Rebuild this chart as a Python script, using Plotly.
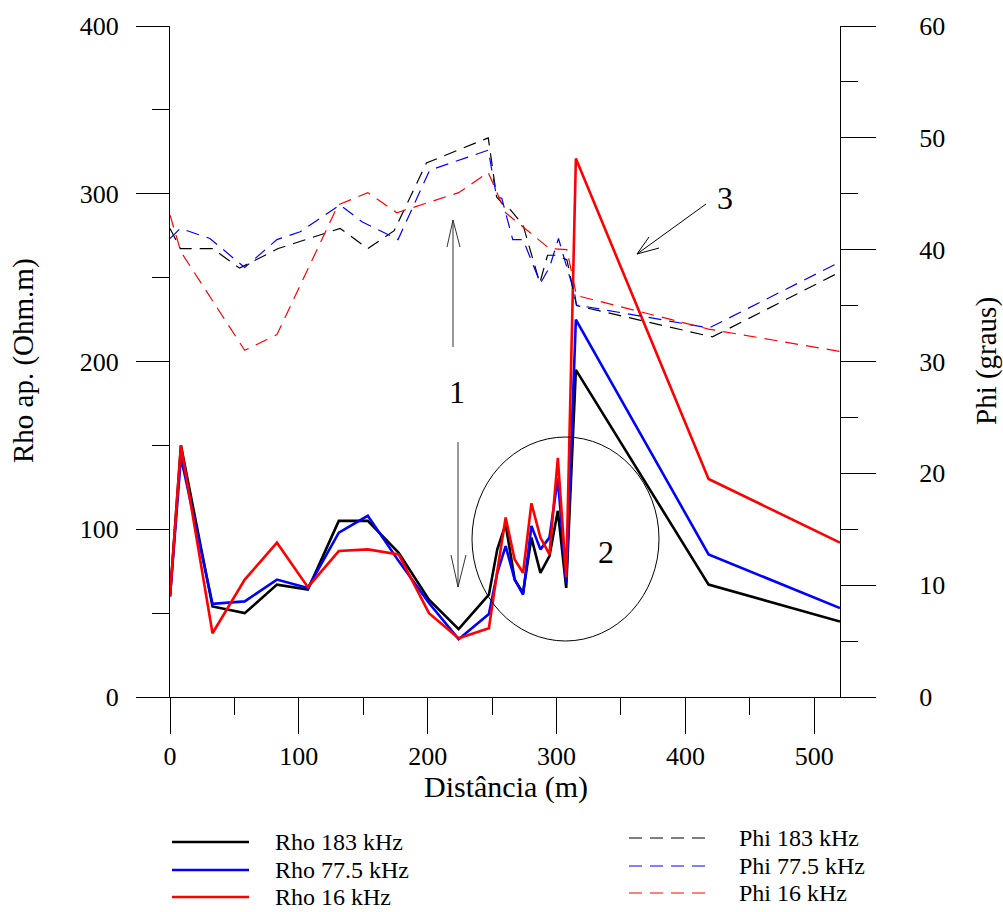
import plotly.graph_objects as go

# ---------------- data ----------------
rho_x = [0, 8.5, 33, 58, 83, 107, 131, 153.5, 177.5, 201, 224, 247.5, 254, 260.5,
         267.5, 274, 280.5, 287.5, 294.5, 301, 307.5, 315, 418, 520]
rho_183 = [60, 150, 54, 50, 67, 64, 105, 105, 86, 58, 40.5, 61, 88, 103,
           70, 62, 95, 74, 84, 111, 65, 195, 67, 45]
rho_775 = [60, 143, 55.5, 57, 70, 65, 98, 108, 81, 56, 34.5, 49.5, 74, 90,
           70, 61, 102, 88, 95, 130.5, 68, 225, 85, 53]
rho_16 = [60, 150, 38, 70, 92, 65.5, 87, 88, 85, 50, 35, 41, 75, 107,
          82, 74, 115.5, 95, 85, 142.5, 71.5, 321, 130, 92]

phi183_x = [0, 8, 33, 54, 84, 132, 153.5, 174, 199, 247, 248, 253.5, 259, 261,
            274, 287, 293, 299, 308, 315.5, 421, 520]
phi_183 = [41.9, 40.1, 40.1, 38.35, 40.1, 41.9, 40.1, 41.7, 47.75, 50.0, 49.2, 44.7,
           44.0, 44.0, 42.2, 37.0, 39.5, 39.5, 39.1, 35.0, 32.2, 38.0]

phi775_x = [0, 8, 31, 58, 83, 101, 132, 149, 177, 201.5, 247, 253.5, 257.5, 266,
            274, 287.5, 294.5, 301.5, 306, 314, 315.5, 418.5, 520]
phi_775 = [41.0, 41.9, 41.0, 38.4, 40.9, 41.6, 44.0, 42.5, 40.9, 47.1, 48.9, 44.7,
           44.6, 40.9, 40.9, 37.0, 38.4, 41.0, 39.2, 36.1, 35.05, 33.0, 38.9]

phi16_x = [0, 8.5, 58, 83, 130.5, 153.5, 176, 224, 247, 260.5, 294.5, 308, 315.5, 418, 520]
phi_16 = [43.1, 39.8, 31.0, 32.4, 44.0, 45.1, 43.3, 45.1, 46.9, 43.3, 40.1, 40.0,
          35.9, 32.9, 30.9]

rho_labels = ["Rho 183 kHz", "Rho 77.5 kHz", "Rho 16 kHz"]
phi_labels = ["Phi 183 kHz", "Phi 77.5 kHz", "Phi 16 kHz"]
colors = ["#000000", "#0000ff", "#ff0000"]

# ---------------- layout geometry ----------------
W, H = 1003, 912
L, R, T, B = 170, 840, 26, 697   # plot edges in screen pixels
FONT = "Liberation Serif, Times New Roman, serif"
DASH = "13px,8px"


def px(x):
    return (x - L) / (R - L)


def py(y):
    return (B - y) / (B - T)


fig = go.Figure()

phi_sets = [(phi183_x, phi_183), (phi775_x, phi_775), (phi16_x, phi_16)]
for (xs, ys), c, name in zip(phi_sets, colors, phi_labels):
    fig.add_trace(go.Scatter(x=xs, y=ys, mode="lines", yaxis="y2", name=name,
                             line=dict(color=c, width=1.2, dash=DASH)))

for ys, c, name in zip([rho_183, rho_775, rho_16], colors, rho_labels):
    fig.add_trace(go.Scatter(x=rho_x, y=ys, mode="lines", name=name,
                             line=dict(color=c, width=2.6)))

tickfont = dict(family=FONT, size=26, color="black")

fig.update_layout(
    width=W, height=H,
    margin=dict(l=L, r=W - R, t=T, b=H - B, pad=0, autoexpand=False),
    paper_bgcolor="white", plot_bgcolor="white",
    showlegend=False,
    font=dict(family=FONT, color="black"),
    xaxis=dict(range=[0, 520], showline=True, linecolor="black", linewidth=1,
               ticks="outside", ticklen=36, tickwidth=1, tickcolor="black",
               tick0=0, dtick=100, showgrid=False, zeroline=False, automargin=False,
               minor=dict(dtick=50, ticks="outside", ticklen=17, tickwidth=1,
                          tickcolor="black", showgrid=False),
               tickfont=tickfont, ticklabelstandoff=0),
    yaxis=dict(range=[0, 400], showline=True, linecolor="black", linewidth=1,
               ticks="outside", ticklen=33, tickwidth=1, tickcolor="black",
               tick0=0, dtick=100, showgrid=False, zeroline=False, automargin=False,
               minor=dict(dtick=50, ticks="outside", ticklen=17, tickwidth=1,
                          tickcolor="black", showgrid=False),
               tickfont=tickfont, ticklabelstandoff=12),
    yaxis2=dict(range=[0, 60], overlaying="y", side="right", showline=True,
                linecolor="black", linewidth=1, automargin=False,
                ticks="outside", ticklen=35, tickwidth=1, tickcolor="black",
                tick0=0, dtick=10, showgrid=False, zeroline=False,
                minor=dict(dtick=5, ticks="outside", ticklen=17, tickwidth=1,
                           tickcolor="black", showgrid=False),
                tickfont=tickfont, ticklabelstandoff=38),
)

shapes = []
annots = []

# axis titles
annots.append(dict(text="Distância (m)", x=px(506), y=py(787), xref="paper", yref="paper",
                   showarrow=False, xanchor="center", yanchor="middle",
                   font=dict(family=FONT, size=30, color="black")))
annots.append(dict(text="Rho ap. (Ohm.m)", x=px(23), y=py(361), xref="paper", yref="paper",
                   showarrow=False, xanchor="center", yanchor="middle", textangle=-90,
                   font=dict(family=FONT, size=29, color="black")))
annots.append(dict(text="Phi (graus)", x=px(986), y=py(361), xref="paper", yref="paper",
                   showarrow=False, xanchor="center", yanchor="middle", textangle=-90,
                   font=dict(family=FONT, size=29, color="black")))

# legend (manual, two columns)
rho_rows = [842, 870, 897]
phi_rows = [838, 866, 893]
for yy, c, name in zip(rho_rows, colors, rho_labels):
    shapes.append(dict(type="line", xref="paper", yref="paper", x0=px(172), x1=px(249),
                       y0=py(yy), y1=py(yy), line=dict(color=c, width=2.6)))
    annots.append(dict(text=name, x=px(273), y=py(yy), xref="paper", yref="paper",
                       showarrow=False, xanchor="left", yanchor="middle",
                       font=dict(family=FONT, size=24, color="black")))
for yy, c, name in zip(phi_rows, colors, phi_labels):
    shapes.append(dict(type="line", xref="paper", yref="paper", x0=px(629), x1=px(709),
                       y0=py(yy), y1=py(yy), line=dict(color=c, width=1.2, dash=DASH)))
    annots.append(dict(text=name, x=px(737), y=py(yy), xref="paper", yref="paper",
                       showarrow=False, xanchor="left", yanchor="middle",
                       font=dict(family=FONT, size=24, color="black")))


def seg(x0, y0, x1, y1, color="#333333", width=1):
    shapes.append(dict(type="line", xref="paper", yref="paper",
                       x0=px(x0), y0=py(y0), x1=px(x1), y1=py(y1),
                       line=dict(color=color, width=width)))


# arrow "1" up
seg(453, 347, 453, 220)
seg(453, 220, 447, 247)
seg(453, 220, 460, 247)
# arrow "1" down
seg(458, 442, 458, 587)
seg(458, 587, 451, 555)
seg(458, 587, 466, 555)
# arrow "3"
seg(706, 204, 637, 254, color="black")
seg(637, 254, 649, 237, color="black")
seg(637, 254, 659, 248, color="black")
# ellipse "2"
shapes.append(dict(type="circle", xref="paper", yref="paper",
                   x0=px(472), x1=px(659), y0=py(641), y1=py(437),
                   line=dict(color="black", width=1)))

for txt, xx, yy in [("1", 457, 392), ("2", 606, 552), ("3", 725, 198)]:
    annots.append(dict(text=txt, x=px(xx), y=py(yy), xref="paper", yref="paper",
                       showarrow=False, xanchor="center", yanchor="middle",
                       font=dict(family=FONT, size=32, color="black")))

fig.update_layout(shapes=shapes, annotations=annots)
fig.write_html(
    "out.html",
    config={"displayModeBar": False},
    post_script="document.body.style.margin='0';document.body.style.overflow='hidden';",
)
